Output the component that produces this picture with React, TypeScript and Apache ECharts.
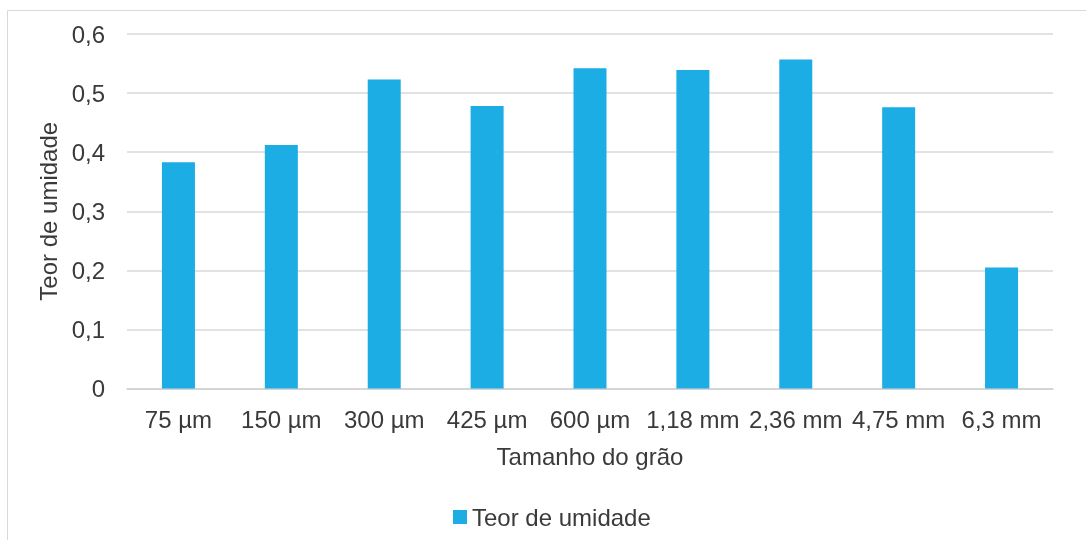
import React, { useEffect, useRef } from "react";
import * as echarts from "echarts";

const categories = ["75 µm", "150 µm", "300 µm", "425 µm", "600 µm", "1,18 mm", "2,36 mm", "4,75 mm", "6,3 mm"];
const moisture = [0.383, 0.412, 0.523, 0.478, 0.542, 0.539, 0.557, 0.476, 0.205];
const seriesName = "Teor de umidade";
const xTitle = "Tamanho do grão";
const yTitle = "Teor de umidade";

const FONT = "'Liberation Sans', Arial, sans-serif";
const TEXT = "#3a3a3a";

export default function App() {
  const ref = useRef<HTMLDivElement>(null);
  useEffect(() => {
    if (!ref.current) return;
    const chart = echarts.init(ref.current, undefined, { renderer: "svg" });
    chart.setOption({
      animation: false,
      textStyle: { fontFamily: FONT, color: TEXT },
      graphic: [
        {
          type: "rect",
          shape: { x: 7.5, y: 10.5, width: 1200, height: 600 },
          style: { fill: "none", stroke: "#d9d9d9", lineWidth: 1 },
          silent: true,
          z: -10,
        },
      ],
      grid: { left: 127, top: 34, width: 926, height: 354.5, containLabel: false },
      legend: {
        data: [seriesName],
        left: 448,
        top: 500,
        icon: "rect",
        itemWidth: 14,
        itemHeight: 14,
        itemGap: 5,
        textStyle: { fontFamily: FONT, fontSize: 24, color: TEXT },
      },
      xAxis: {
        type: "category",
        data: categories,
        name: xTitle,
        nameLocation: "middle",
        nameGap: 56,
        nameTextStyle: { fontFamily: FONT, fontSize: 24, color: TEXT },
        axisLine: { lineStyle: { color: "#d0d0d0", width: 1.5 } },
        axisTick: { show: false },
        axisLabel: { fontFamily: FONT, fontSize: 24, color: TEXT, margin: 19, interval: 0 },
      },
      yAxis: {
        type: "value",
        min: 0,
        max: 0.6,
        interval: 0.1,
        name: yTitle,
        nameLocation: "middle",
        nameGap: 67,
        nameTextStyle: { fontFamily: FONT, fontSize: 24, color: TEXT },
        axisLine: { show: false },
        axisTick: { show: false },
        splitLine: { lineStyle: { color: "#d9d9d9", width: 1.5 } },
        axisLabel: {
          fontFamily: FONT,
          fontSize: 24,
          color: TEXT,
          margin: 22,
          formatter: (v: number) => (v === 0 ? "0" : v.toFixed(1).replace(".", ",")),
        },
      },
      series: [
        {
          name: seriesName,
          type: "bar",
          data: moisture,
          barWidth: 33,
          itemStyle: { color: "#1BADE3" },
        },
      ],
    });
    return () => chart.dispose();
  }, []);
  return (
    <div
      ref={ref}
      style={{ position: "fixed", left: 0, top: 0, width: 1086, height: 540 }}
    />
  );
}
